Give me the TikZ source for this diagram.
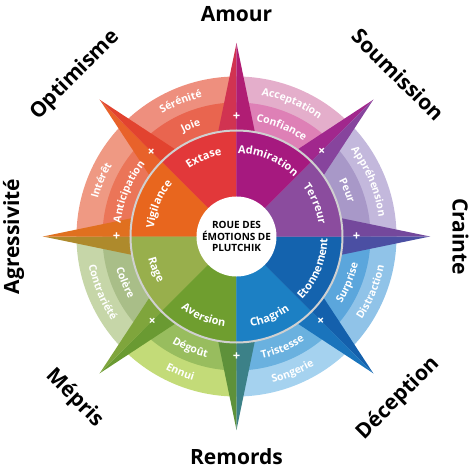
\documentclass[tikz,border=0pt]{standalone}
\usepackage{fontspec}
\setmainfont{Open Sans}
\usetikzlibrary{decorations.text}

% sector colours, outer band to inner band
\definecolor{serenite}{HTML}{EE8F7E}
\definecolor{joie}{HTML}{E9654F}
\definecolor{extase}{HTML}{E2383A}
\definecolor{interet}{HTML}{EF9983}
\definecolor{anticipation}{HTML}{EB7558}
\definecolor{vigilance}{HTML}{E8661E}
\definecolor{contrariete}{HTML}{C6D6A8}
\definecolor{colere}{HTML}{A9BE88}
\definecolor{rage}{HTML}{98AF4C}
\definecolor{ennui}{HTML}{C3DB78}
\definecolor{degout}{HTML}{98BD5E}
\definecolor{aversion}{HTML}{6F9E2F}
\definecolor{songerie}{HTML}{A5D2EF}
\definecolor{tristesse}{HTML}{6AB1DF}
\definecolor{chagrin}{HTML}{1C80C4}
\definecolor{distraction}{HTML}{90C3E8}
\definecolor{surprise}{HTML}{5BA6DC}
\definecolor{etonnement}{HTML}{1463AE}
\definecolor{apprehension}{HTML}{C3B8DC}
\definecolor{peur}{HTML}{A898C8}
\definecolor{terreur}{HTML}{8B4C9E}
\definecolor{acceptation}{HTML}{E4AECB}
\definecolor{confiance}{HTML}{DE80B6}
\definecolor{admiration}{HTML}{A6197F}
% spike halves
\definecolor{amourA}{HTML}{D13351}
\definecolor{amourB}{HTML}{B01D74}
\definecolor{soumA}{HTML}{A1278D}
\definecolor{soumB}{HTML}{87449D}
\definecolor{craintA}{HTML}{74489C}
\definecolor{craintB}{HTML}{4B4FA3}
\definecolor{decepA}{HTML}{1460AC}
\definecolor{decepB}{HTML}{1A74BC}
\definecolor{remorA}{HTML}{3C8188}
\definecolor{remorB}{HTML}{5E913A}
\definecolor{meprA}{HTML}{6A9A32}
\definecolor{meprB}{HTML}{7FA53C}
\definecolor{agresA}{HTML}{AE8A2C}
\definecolor{agresB}{HTML}{E0701F}
\definecolor{optimA}{HTML}{E8622A}
\definecolor{optimB}{HTML}{E2432F}
\definecolor{ringgrey}{HTML}{D0D0D0}

\newcommand{\innerfont}{\fontsize{11}{11}\selectfont\bfseries}
\newcommand{\ringfont}{\fontsize{10.5}{10.5}\selectfont\bfseries}

\begin{document}
\begin{tikzpicture}[
    dyad/.style={font=\fontsize{21}{21}\selectfont\bfseries, text=black, inner sep=0pt},
    sign/.style={font=\fontsize{13}{13}\selectfont\bfseries, text=white, inner sep=0pt},
    title/.style={font=\fontsize{10}{11.5}\selectfont\bfseries, text=black, align=center, inner sep=0pt},
    innertext/.style={decorate, decoration={text along path, text={|\innerfont|#1}, text align=center, text color=white}},
    ringtext/.style={decorate, decoration={text along path, text={|\ringfont|#1}, text align=center, text color=white}},
    ringline/.style={draw=ringgrey, line width=2pt}
    ]

    \useasboundingbox (-236.5pt,-237.5pt) rectangle (237.5pt,236.5pt);

    % Outer band
    \fill[serenite] (0,0) -- (90:160pt) arc[start angle=90, end angle=135, radius=160pt] -- cycle;
    \fill[interet] (0,0) -- (135:160pt) arc[start angle=135, end angle=180, radius=160pt] -- cycle;
    \fill[contrariete] (0,0) -- (180:160pt) arc[start angle=180, end angle=225, radius=160pt] -- cycle;
    \fill[ennui] (0,0) -- (225:160pt) arc[start angle=225, end angle=270, radius=160pt] -- cycle;
    \fill[songerie] (0,0) -- (270:160pt) arc[start angle=270, end angle=315, radius=160pt] -- cycle;
    \fill[distraction] (0,0) -- (315:160pt) arc[start angle=315, end angle=360, radius=160pt] -- cycle;
    \fill[apprehension] (0,0) -- (0:160pt) arc[start angle=0, end angle=45, radius=160pt] -- cycle;
    \fill[acceptation] (0,0) -- (45:160pt) arc[start angle=45, end angle=90, radius=160pt] -- cycle;

    % Middle band
    \fill[joie] (0,0) -- (90:134pt) arc[start angle=90, end angle=135, radius=134pt] -- cycle;
    \fill[anticipation] (0,0) -- (135:134pt) arc[start angle=135, end angle=180, radius=134pt] -- cycle;
    \fill[colere] (0,0) -- (180:134pt) arc[start angle=180, end angle=225, radius=134pt] -- cycle;
    \fill[degout] (0,0) -- (225:134pt) arc[start angle=225, end angle=270, radius=134pt] -- cycle;
    \fill[tristesse] (0,0) -- (270:134pt) arc[start angle=270, end angle=315, radius=134pt] -- cycle;
    \fill[surprise] (0,0) -- (315:134pt) arc[start angle=315, end angle=360, radius=134pt] -- cycle;
    \fill[peur] (0,0) -- (0:134pt) arc[start angle=0, end angle=45, radius=134pt] -- cycle;
    \fill[confiance] (0,0) -- (45:134pt) arc[start angle=45, end angle=90, radius=134pt] -- cycle;

    % Inner band
    \fill[extase] (0,0) -- (90:106pt) arc[start angle=90, end angle=135, radius=106pt] -- cycle;
    \fill[vigilance] (0,0) -- (135:106pt) arc[start angle=135, end angle=180, radius=106pt] -- cycle;
    \fill[rage] (0,0) -- (180:106pt) arc[start angle=180, end angle=225, radius=106pt] -- cycle;
    \fill[aversion] (0,0) -- (225:106pt) arc[start angle=225, end angle=270, radius=106pt] -- cycle;
    \fill[chagrin] (0,0) -- (270:106pt) arc[start angle=270, end angle=315, radius=106pt] -- cycle;
    \fill[etonnement] (0,0) -- (315:106pt) arc[start angle=315, end angle=360, radius=106pt] -- cycle;
    \fill[terreur] (0,0) -- (0:106pt) arc[start angle=0, end angle=45, radius=106pt] -- cycle;
    \fill[admiration] (0,0) -- (45:106pt) arc[start angle=45, end angle=90, radius=106pt] -- cycle;

    % Spikes, two halves each
    \fill[amourA] (90:106pt) -- (90:193.5pt) -- (100:106pt) arc[start angle=100, end angle=90, radius=106pt] -- cycle;
    \fill[amourB] (90:106pt) -- (90:193.5pt) -- (80:106pt) arc[start angle=80, end angle=90, radius=106pt] -- cycle;
    \fill[soumA] (45:106pt) -- (45:193.5pt) -- (55:106pt) arc[start angle=55, end angle=45, radius=106pt] -- cycle;
    \fill[soumB] (45:106pt) -- (45:193.5pt) -- (35:106pt) arc[start angle=35, end angle=45, radius=106pt] -- cycle;
    \fill[craintA] (0:106pt) -- (0:193.5pt) -- (10:106pt) arc[start angle=10, end angle=0, radius=106pt] -- cycle;
    \fill[craintB] (0:106pt) -- (0:193.5pt) -- (-10:106pt) arc[start angle=-10, end angle=0, radius=106pt] -- cycle;
    \fill[decepA] (-45:106pt) -- (-45:193.5pt) -- (-35:106pt) arc[start angle=-35, end angle=-45, radius=106pt] -- cycle;
    \fill[decepB] (-45:106pt) -- (-45:193.5pt) -- (-55:106pt) arc[start angle=-55, end angle=-45, radius=106pt] -- cycle;
    \fill[remorA] (-90:106pt) -- (-90:193.5pt) -- (-80:106pt) arc[start angle=-80, end angle=-90, radius=106pt] -- cycle;
    \fill[remorB] (-90:106pt) -- (-90:193.5pt) -- (-100:106pt) arc[start angle=-100, end angle=-90, radius=106pt] -- cycle;
    \fill[meprA] (-135:106pt) -- (-135:193.5pt) -- (-125:106pt) arc[start angle=-125, end angle=-135, radius=106pt] -- cycle;
    \fill[meprB] (-135:106pt) -- (-135:193.5pt) -- (-145:106pt) arc[start angle=-145, end angle=-135, radius=106pt] -- cycle;
    \fill[agresA] (180:106pt) -- (180:193.5pt) -- (190:106pt) arc[start angle=190, end angle=180, radius=106pt] -- cycle;
    \fill[agresB] (180:106pt) -- (180:193.5pt) -- (170:106pt) arc[start angle=170, end angle=180, radius=106pt] -- cycle;
    \fill[optimA] (135:106pt) -- (135:193.5pt) -- (145:106pt) arc[start angle=145, end angle=135, radius=106pt] -- cycle;
    \fill[optimB] (135:106pt) -- (135:193.5pt) -- (125:106pt) arc[start angle=125, end angle=135, radius=106pt] -- cycle;

    % Grey ring and centre
    \draw[ringline] (0,0) circle[radius=106pt];
    \fill[white] (0,0) circle[radius=40pt];
    \node[title] (titre) at (0,0) {ROUE DES\\ÉMOTIONS DE\\PLUTCHIK};

    % Plus signs on the spikes
    \node[sign] (plusamour) at (90:120pt) {+};
    \node[sign, rotate=-45] (plussoum) at (45:120pt) {+};
    \node[sign] (pluscraint) at (0:120pt) {+};
    \node[sign, rotate=45] (plusdecep) at (-45:120pt) {+};
    \node[sign] (plusremor) at (-90:120pt) {+};
    \node[sign, rotate=-45] (plusmepr) at (-135:120pt) {+};
    \node[sign] (plusagres) at (180:120pt) {+};
    \node[sign, rotate=45] (plusoptim) at (135:120pt) {+};

    % Inner band labels
    \path[innertext=Extase] (135:83pt) arc[start angle=135, end angle=90, radius=83pt];
    \path[innertext=Admiration] (90:83pt) arc[start angle=90, end angle=45, radius=83pt];
    \path[innertext=Terreur] (45:83pt) arc[start angle=45, end angle=0, radius=83pt];
    \path[innertext=Vigilance] (180:83pt) arc[start angle=180, end angle=135, radius=83pt];
    \path[innertext=Etonnement] (-45:91pt) arc[start angle=-45, end angle=0, radius=91pt];
    \path[innertext=Chagrin] (-90:91pt) arc[start angle=-90, end angle=-45, radius=91pt];
    \path[innertext=Aversion] (-135:91pt) arc[start angle=-135, end angle=-90, radius=91pt];
    \path[innertext=Rage] (-180:91pt) arc[start angle=-180, end angle=-135, radius=91pt];

    % Middle band labels
    \path[ringtext=Joie] (135:116.5pt) arc[start angle=135, end angle=90, radius=116.5pt];
    \path[ringtext=Confiance] (90:116.5pt) arc[start angle=90, end angle=45, radius=116.5pt];
    \path[ringtext=Peur] (45:116.5pt) arc[start angle=45, end angle=0, radius=116.5pt];
    \path[ringtext=Anticipation] (180:116.5pt) arc[start angle=180, end angle=135, radius=116.5pt];
    \path[ringtext=Surprise] (-45:124.5pt) arc[start angle=-45, end angle=0, radius=124.5pt];
    \path[ringtext=Tristesse] (-90:124.5pt) arc[start angle=-90, end angle=-45, radius=124.5pt];
    \path[ringtext=Dégoût] (-135:124.5pt) arc[start angle=-135, end angle=-90, radius=124.5pt];
    \path[ringtext=Colère] (-180:124.5pt) arc[start angle=-180, end angle=-135, radius=124.5pt];

    % Outer band labels
    \path[ringtext=Sérénité] (135:143.5pt) arc[start angle=135, end angle=90, radius=143.5pt];
    \path[ringtext=Acceptation] (90:143.5pt) arc[start angle=90, end angle=45, radius=143.5pt];
    \path[ringtext=Appréhension] (45:143.5pt) arc[start angle=45, end angle=0, radius=143.5pt];
    \path[ringtext=Intérêt] (180:143.5pt) arc[start angle=180, end angle=135, radius=143.5pt];
    \path[ringtext=Distraction] (-45:150.5pt) arc[start angle=-45, end angle=0, radius=150.5pt];
    \path[ringtext=Songerie] (-90:150.5pt) arc[start angle=-90, end angle=-45, radius=150.5pt];
    \path[ringtext=Ennui] (-135:150.5pt) arc[start angle=-135, end angle=-90, radius=150.5pt];
    \path[ringtext=Contrariété] (-180:150.5pt) arc[start angle=-180, end angle=-135, radius=150.5pt];

    % Dyad labels
    \node[dyad] (amour) at (90:222pt) {Amour};
    \node[dyad, rotate=-45] (soumission) at (45:229pt) {Soumission};
    \node[dyad, rotate=-90] (crainte) at (0:224pt) {Crainte};
    \node[dyad, rotate=45] (deception) at (-45:229pt) {Déception};
    \node[dyad] (remords) at (-90:220pt) {Remords};
    \node[dyad, rotate=-45] (mepris) at (-135:229pt) {Mépris};
    \node[dyad, rotate=90] (agressivite) at (180:223pt) {Agressivité};
    \node[dyad, rotate=45] (optimisme) at (135:228pt) {Optimisme};

\end{tikzpicture}
\end{document}
